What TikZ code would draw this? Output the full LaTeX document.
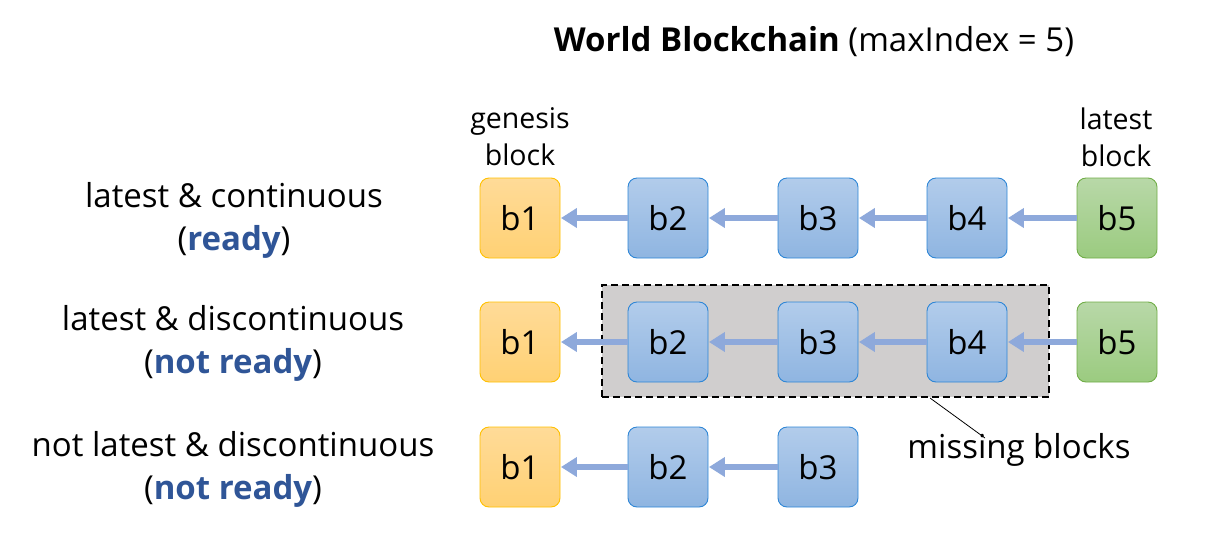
\documentclass[tikz,border=0pt]{standalone}
\usepackage{fontspec}
\setmainfont{Open Sans}
\usetikzlibrary{arrows.meta,shapes.geometric}
\definecolor{orTop}{HTML}{FFDB98}
\definecolor{orBot}{HTML}{FFD174}
\definecolor{orLine}{HTML}{FFC000}
\definecolor{blTop}{HTML}{B2CCEB}
\definecolor{blBot}{HTML}{8FB5E1}
\definecolor{blLine}{HTML}{2E86D6}
\definecolor{grTop}{HTML}{B8D8A8}
\definecolor{grBot}{HTML}{9BCB80}
\definecolor{grLine}{HTML}{70AD47}
\definecolor{arr}{HTML}{8EA9DB}
\definecolor{rdy}{HTML}{2F5597}
\definecolor{gbox}{HTML}{D0CECE}
\tikzset{
  blk/.style={rounded corners=9pt, minimum width=80pt, minimum height=80pt, inner sep=0pt, font=\fontsize{33}{33}\selectfont, line width=0.9pt},
  gen/.style={blk, draw=orLine, top color=orTop, bottom color=orBot},
  mid/.style={blk, draw=blLine, top color=blTop, bottom color=blBot},
  lat/.style={blk, draw=grLine, top color=grTop, bottom color=grBot},
  link/.style={draw=arr, line width=6pt, -{Triangle[length=16pt,width=19pt]}, shorten >=0.5pt},
  lbl/.style={align=center, font=\fontsize{33}{43}\selectfont, inner sep=0pt},
  top/.style={align=center, font=\fontsize{28.5}{37}\selectfont, inner sep=0pt},
}
\begin{document}
\begin{tikzpicture}[x=1pt,y=-1pt]
\useasboundingbox (0,0) rectangle (1216,539);
% title
\node[inner sep=0pt, font=\fontsize{33}{33}\selectfont] (title) at (814,42) {\textbf{World Blockchain} (maxIndex = 5)};
\node[top] (genlbl) at (520,137) {genesis\\block};
\node[top] (latlbl) at (1116,137) {latest\\block};
% missing box
\node[draw=black, line width=2pt, fill=gbox, minimum width=447pt, minimum height=112pt, inner sep=0pt, dash pattern=on 7pt off 4pt] (miss) at (825.5,341) {};
% row 1
\node[gen] (a1) at (520,218) {b1};
\node[mid] (a2) at (668,218) {b2};
\node[mid] (a3) at (818,218) {b3};
\node[mid] (a4) at (967,218) {b4};
\node[lat] (a5) at (1117,218) {b5};
\draw[link] (a2) -- (a1);
\draw[link] (a3) -- (a2);
\draw[link] (a4) -- (a3);
\draw[link] (a5) -- (a4);
% row 2
\node[gen] (c1) at (520,342) {b1};
\node[mid] (c2) at (668,342) {b2};
\node[mid] (c3) at (818,342) {b3};
\node[mid] (c4) at (967,342) {b4};
\node[lat] (c5) at (1117,342) {b5};
\draw[link] (c2) -- (c1);
\draw[link] (c3) -- (c2);
\draw[link] (c4) -- (c3);
\draw[link] (c5) -- (c4);
% row 3
\node[gen] (d1) at (520,467) {b1};
\node[mid] (d2) at (668,467) {b2};
\node[mid] (d3) at (818,467) {b3};
\draw[link] (d2) -- (d1);
\draw[link] (d3) -- (d2);
% labels
\node[lbl] (l1) at (234,220) {latest \& continuous\\(\textcolor{rdy}{\textbf{ready}})};
\node[lbl] (l2) at (233,343) {latest \& discontinuous\\(\textcolor{rdy}{\textbf{not ready}})};
\node[lbl] (l3) at (233,469) {not latest \& discontinuous\\(\textcolor{rdy}{\textbf{not ready}})};
% missing blocks
\node[inner sep=0pt, font=\fontsize{33}{33}\selectfont] (mb) at (1019,450) {missing blocks};
\coordinate (mbp) at (985,438);
\draw[line width=0.8pt] (930,398) -- (mbp);
\end{tikzpicture}
\end{document}
